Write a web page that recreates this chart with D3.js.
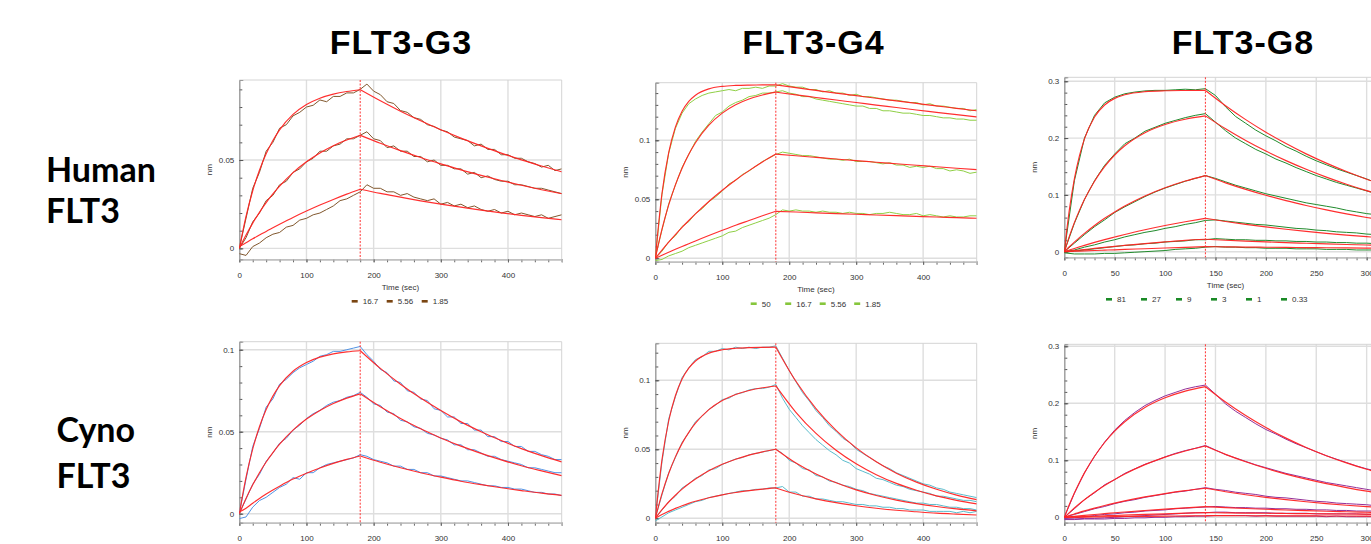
<!DOCTYPE html>
<html><head><meta charset="utf-8">
<script src="https://cdn.jsdelivr.net/npm/d3@7/dist/d3.min.js"></script>
<style>body{margin:0;background:#fff}svg{display:block}</style>
</head><body><svg id="c" width="1371" height="544"></svg>
<script>
// ---------------- data ----------------
const columnTitles = ["FLT3-G3", "FLT3-G4", "FLT3-G8"];
const rowTitles = [["Human", "FLT3"], ["Cyno", "FLT3"]];
const concG3 = ["16.7", "5.56", "1.85"];
const concG4 = ["50", "16.7", "5.56", "1.85"];
const concG8 = ["81", "27", "9", "3", "1", "0.33"];
const xTicks480 = [0, 100, 200, 300, 400];
const xTicks320 = [0, 50, 100, 150, 200, 250, 300];
const yTicksG3Human = [0, 0.05];
const yTicksG4Human = [0, 0.05, 0.1];
const yTicksG8 = [0, 0.1, 0.2, 0.3];
const yTicksG3Cyno = [0, 0.05, 0.1];
const yTicksG4Cyno = [0, 0.05, 0.1];

const sampleTimes480 = [0,10,20,30,40,50,60,70,80,90,100,110,120,130,140,150,160,170,180,190,200,210,220,230,240,250,260,270,280,290,300,310,320,330,340,350,360,370,380,390,400,410,420,430,440,450,460,470,480];
const sampleTimes320 = [0,10,20,30,40,50,60,70,80,90,100,110,120,130,140,150,160,170,180,190,200,210,220,230,240,250,260,270,280,290,300,310,320];
const fitTimes480 = [0,10,20,30,40,50,60,80,100,120,140,160,180,210,240,270,300,330,360,390,420,450,480];
const fitTimes320 = [0,5,10,15,20,30,40,50,60,80,100,120,140,160,180,200,220,240,260,280,300,320];

// FLT3-G3 / Human
const g3HumanObs = [
 [0.000,0.017,0.034,0.043,0.055,0.060,0.068,0.070,0.075,0.077,0.080,0.081,0.084,0.083,0.086,0.086,0.088,0.088,0.090,0.093,0.089,0.087,0.083,0.082,0.078,0.077,0.074,0.073,0.070,0.069,0.067,0.066,0.063,0.062,0.061,0.058,0.059,0.056,0.056,0.053,0.053,0.051,0.051,0.049,0.048,0.046,0.047,0.044,0.045],
 [0.000,0.006,0.015,0.020,0.027,0.030,0.036,0.038,0.043,0.045,0.049,0.051,0.055,0.055,0.058,0.059,0.062,0.062,0.064,0.066,0.062,0.061,0.057,0.058,0.055,0.055,0.052,0.052,0.049,0.050,0.047,0.047,0.045,0.045,0.042,0.043,0.040,0.041,0.039,0.038,0.038,0.036,0.036,0.035,0.034,0.034,0.033,0.032,0.031],
 [-0.003,-0.004,0.001,0.003,0.006,0.008,0.009,0.012,0.013,0.016,0.017,0.019,0.020,0.022,0.024,0.027,0.028,0.030,0.032,0.036,0.034,0.034,0.032,0.032,0.030,0.031,0.029,0.028,0.027,0.028,0.025,0.026,0.024,0.025,0.023,0.024,0.022,0.021,0.022,0.020,0.021,0.019,0.020,0.019,0.018,0.019,0.017,0.018,0.019]
];
const g3HumanFit = [
 [0,0.0181,0.0326,0.0442,0.0535,0.0610,0.0671,0.0758,0.0814,0.0850,0.0873,0.0888,0.0898,0.0835,0.0776,0.0722,0.0671,0.0624,0.0580,0.0539,0.0501,0.0466,0.0433],
 [0,0.0075,0.0143,0.0204,0.0259,0.0308,0.0352,0.0429,0.0490,0.0540,0.0581,0.0613,0.0640,0.0595,0.0553,0.0514,0.0478,0.0444,0.0413,0.0384,0.0357,0.0332,0.0309],
 [0.001,0.0032,0.0054,0.0075,0.0096,0.0116,0.0136,0.0175,0.0211,0.0245,0.0277,0.0307,0.0335,0.0311,0.0290,0.0269,0.0250,0.0233,0.0216,0.0201,0.0187,0.0174,0.0162]
];

// FLT3-G4 / Human
const g4HumanObs = [
 [0.000,0.054,0.089,0.110,0.123,0.131,0.135,0.138,0.140,0.141,0.142,0.143,0.142,0.144,0.144,0.145,0.144,0.146,0.146,0.148,0.146,0.145,0.145,0.143,0.143,0.141,0.142,0.140,0.140,0.138,0.139,0.137,0.137,0.136,0.135,0.134,0.134,0.133,0.132,0.132,0.130,0.131,0.129,0.129,0.128,0.127,0.127,0.125,0.126],
 [0.001,0.024,0.046,0.062,0.077,0.088,0.099,0.107,0.114,0.121,0.124,0.129,0.132,0.134,0.137,0.138,0.140,0.140,0.141,0.142,0.140,0.139,0.137,0.137,0.135,0.134,0.133,0.132,0.131,0.130,0.129,0.129,0.127,0.127,0.125,0.125,0.124,0.123,0.123,0.122,0.121,0.121,0.120,0.119,0.119,0.118,0.118,0.117,0.117],
 [0.000,0.006,0.014,0.019,0.027,0.031,0.038,0.042,0.048,0.052,0.057,0.063,0.066,0.071,0.074,0.078,0.082,0.085,0.088,0.090,0.089,0.088,0.087,0.087,0.086,0.085,0.084,0.084,0.083,0.084,0.082,0.082,0.082,0.081,0.080,0.081,0.079,0.079,0.077,0.078,0.077,0.078,0.076,0.076,0.074,0.075,0.074,0.072,0.073],
 [-0.002,-0.001,0.002,0.004,0.006,0.009,0.011,0.013,0.015,0.017,0.019,0.022,0.023,0.026,0.028,0.030,0.032,0.034,0.037,0.041,0.040,0.041,0.040,0.040,0.039,0.040,0.039,0.039,0.038,0.039,0.038,0.038,0.037,0.038,0.038,0.039,0.038,0.037,0.037,0.038,0.036,0.037,0.036,0.035,0.036,0.035,0.035,0.036,0.036]
];
const g4HumanFit = [
 [0,0.0551,0.0896,0.1111,0.1246,0.1330,0.1382,0.1436,0.1457,0.1465,0.1468,0.1469,0.1470,0.1446,0.1423,0.1400,0.1378,0.1356,0.1334,0.1313,0.1291,0.1271,0.1250],
 [0,0.0247,0.0452,0.0622,0.0763,0.0881,0.0979,0.1128,0.1230,0.1301,0.1350,0.1384,0.1408,0.1385,0.1363,0.1341,0.1320,0.1298,0.1278,0.1257,0.1237,0.1217,0.1198],
 [0,0.0070,0.0137,0.0201,0.0262,0.0320,0.0376,0.0481,0.0576,0.0664,0.0743,0.0816,0.0883,0.0869,0.0855,0.0841,0.0828,0.0814,0.0801,0.0788,0.0776,0.0763,0.0751],
 [0,0.0026,0.0051,0.0076,0.0100,0.0123,0.0147,0.0193,0.0237,0.0280,0.0320,0.0360,0.0398,0.0392,0.0385,0.0379,0.0373,0.0367,0.0361,0.0355,0.0350,0.0344,0.0339]
];

// FLT3-G8 / Human
const g8HumanObs = [
 [0.000,0.125,0.200,0.240,0.262,0.272,0.278,0.281,0.283,0.284,0.284,0.285,0.286,0.285,0.287,0.275,0.255,0.238,0.226,0.214,0.204,0.195,0.185,0.177,0.168,0.160,0.153,0.146,0.140,0.134,0.128,0.121,0.116],
 [0.000,0.050,0.092,0.125,0.152,0.172,0.190,0.200,0.212,0.219,0.226,0.231,0.236,0.240,0.243,0.228,0.213,0.200,0.190,0.180,0.172,0.163,0.156,0.148,0.141,0.134,0.128,0.122,0.117,0.112,0.107,0.102,0.098],
 [0.000,0.015,0.030,0.044,0.056,0.069,0.079,0.088,0.097,0.105,0.112,0.118,0.124,0.129,0.134,0.129,0.123,0.117,0.112,0.107,0.102,0.098,0.094,0.090,0.086,0.083,0.080,0.077,0.073,0.070,0.067,0.065,0.062],
 [0.000,0.003,0.008,0.012,0.017,0.021,0.026,0.030,0.034,0.037,0.041,0.044,0.048,0.051,0.055,0.056,0.054,0.052,0.050,0.048,0.047,0.045,0.043,0.041,0.040,0.038,0.037,0.035,0.034,0.033,0.031,0.030,0.029],
 [-0.001,0.001,0.003,0.005,0.007,0.009,0.011,0.012,0.014,0.015,0.017,0.018,0.019,0.021,0.021,0.023,0.022,0.021,0.021,0.020,0.020,0.019,0.019,0.018,0.018,0.017,0.017,0.016,0.016,0.015,0.015,0.014,0.014],
 [-0.002,-0.004,-0.004,-0.004,-0.003,-0.003,-0.002,-0.001,0.000,0.001,0.002,0.004,0.005,0.006,0.008,0.009,0.008,0.008,0.007,0.007,0.006,0.006,0.006,0.005,0.005,0.005,0.004,0.004,0.004,0.003,0.003,0.003,0.003]
];
const g8HumanFit = [
 [0,0.0736,0.1281,0.1685,0.1985,0.2371,0.2582,0.2699,0.2762,0.2817,0.2833,0.2838,0.2840,0.2570,0.2325,0.2104,0.1904,0.1722,0.1559,0.1410,0.1276,0.1155],
 [0,0.0270,0.0512,0.0727,0.0918,0.1241,0.1498,0.1702,0.1864,0.2095,0.2240,0.2332,0.2391,0.2163,0.1957,0.1771,0.1603,0.1450,0.1312,0.1187,0.1074,0.0972],
 [0,0.0087,0.0169,0.0248,0.0322,0.0461,0.0587,0.0700,0.0803,0.0980,0.1124,0.1243,0.1340,0.1212,0.1097,0.0993,0.0898,0.0813,0.0735,0.0665,0.0602,0.0545],
 [0,0.0029,0.0057,0.0084,0.0111,0.0163,0.0212,0.0258,0.0303,0.0385,0.0460,0.0527,0.0588,0.0532,0.0481,0.0436,0.0394,0.0357,0.0323,0.0292,0.0264,0.0239],
 [0,0.0010,0.0020,0.0029,0.0039,0.0057,0.0075,0.0093,0.0110,0.0142,0.0172,0.0200,0.0218,0.0202,0.0187,0.0173,0.0160,0.0148,0.0137,0.0127,0.0118,0.0109],
 [0,0.0003,0.0007,0.0010,0.0013,0.0020,0.0027,0.0033,0.0040,0.0052,0.0065,0.0077,0.0088,0.0085,0.0081,0.0078,0.0075,0.0072,0.0069,0.0066,0.0063,0.0061]
];

// FLT3-G3 / Cyno
const g3CynoObs = [
 [0.000,0.021,0.041,0.052,0.065,0.070,0.079,0.082,0.086,0.089,0.091,0.093,0.096,0.097,0.099,0.099,0.100,0.101,0.102,0.097,0.093,0.088,0.086,0.081,0.080,0.075,0.074,0.070,0.069,0.064,0.063,0.059,0.059,0.055,0.055,0.051,0.051,0.047,0.047,0.044,0.044,0.041,0.041,0.038,0.038,0.036,0.035,0.033,0.033],
 [0.000,0.009,0.018,0.024,0.032,0.037,0.043,0.046,0.051,0.054,0.058,0.061,0.063,0.066,0.068,0.069,0.071,0.072,0.074,0.071,0.067,0.066,0.062,0.061,0.057,0.056,0.053,0.052,0.049,0.048,0.046,0.045,0.042,0.042,0.039,0.039,0.037,0.035,0.035,0.033,0.032,0.031,0.030,0.028,0.028,0.027,0.026,0.025,0.025],
 [-0.003,-0.002,0.004,0.008,0.010,0.013,0.016,0.018,0.022,0.021,0.025,0.025,0.028,0.030,0.031,0.032,0.033,0.034,0.036,0.035,0.033,0.032,0.031,0.029,0.029,0.027,0.027,0.025,0.025,0.023,0.023,0.022,0.021,0.020,0.020,0.019,0.018,0.017,0.017,0.016,0.016,0.015,0.015,0.014,0.013,0.013,0.012,0.012,0.011]
];
const g3CynoFit = [
 [0,0.0222,0.0395,0.0530,0.0635,0.0717,0.0781,0.0869,0.0922,0.0955,0.0975,0.0987,0.0994,0.0886,0.0790,0.0705,0.0629,0.0560,0.0500,0.0446,0.0397,0.0354,0.0316],
 [0,0.0093,0.0176,0.0250,0.0315,0.0373,0.0424,0.0510,0.0577,0.0630,0.0672,0.0705,0.0731,0.0652,0.0581,0.0518,0.0462,0.0412,0.0368,0.0328,0.0292,0.0261,0.0232],
 [0.001,0.0033,0.0064,0.0093,0.0120,0.0145,0.0168,0.0211,0.0247,0.0279,0.0307,0.0331,0.0352,0.0314,0.0280,0.0250,0.0223,0.0198,0.0177,0.0158,0.0141,0.0125,0.0112]
];

// FLT3-G4 / Cyno
const g4CynoObs = [
 [0.000,0.041,0.072,0.088,0.102,0.109,0.115,0.117,0.121,0.121,0.123,0.122,0.124,0.123,0.124,0.123,0.124,0.124,0.125,0.116,0.107,0.099,0.091,0.085,0.078,0.073,0.067,0.063,0.058,0.055,0.050,0.047,0.044,0.041,0.038,0.036,0.033,0.031,0.029,0.027,0.025,0.024,0.022,0.021,0.019,0.018,0.017,0.016,0.015],
 [0.000,0.017,0.033,0.044,0.055,0.062,0.070,0.074,0.079,0.082,0.086,0.087,0.090,0.091,0.093,0.094,0.094,0.095,0.097,0.087,0.079,0.073,0.067,0.062,0.057,0.053,0.049,0.046,0.042,0.040,0.036,0.034,0.032,0.029,0.028,0.026,0.024,0.023,0.021,0.020,0.019,0.018,0.016,0.016,0.015,0.014,0.013,0.013,0.012],
 [0.000,0.006,0.012,0.016,0.022,0.025,0.029,0.031,0.035,0.036,0.039,0.041,0.043,0.044,0.046,0.047,0.048,0.049,0.050,0.047,0.042,0.040,0.036,0.035,0.031,0.030,0.027,0.026,0.024,0.023,0.021,0.020,0.018,0.017,0.016,0.015,0.014,0.013,0.012,0.011,0.011,0.010,0.010,0.009,0.008,0.008,0.007,0.007,0.006],
 [-0.002,0.001,0.004,0.006,0.008,0.010,0.012,0.013,0.015,0.016,0.017,0.018,0.019,0.020,0.020,0.021,0.021,0.022,0.022,0.023,0.019,0.019,0.016,0.016,0.014,0.014,0.013,0.012,0.012,0.011,0.010,0.010,0.009,0.009,0.008,0.008,0.007,0.007,0.006,0.006,0.006,0.005,0.005,0.005,0.005,0.004,0.005,0.004,0.005]
];
const g4CynoFit = [
 [0,0.0425,0.0705,0.0888,0.1009,0.1088,0.1140,0.1197,0.1221,0.1232,0.1237,0.1239,0.1240,0.0993,0.0795,0.0637,0.0510,0.0409,0.0327,0.0262,0.0210,0.0168,0.0135],
 [0,0.0179,0.0325,0.0445,0.0543,0.0623,0.0689,0.0787,0.0853,0.0897,0.0926,0.0946,0.0959,0.0768,0.0615,0.0493,0.0395,0.0316,0.0253,0.0203,0.0162,0.0130,0.0104],
 [0,0.0062,0.0118,0.0167,0.0211,0.0250,0.0285,0.0344,0.0391,0.0428,0.0458,0.0481,0.0500,0.0400,0.0321,0.0257,0.0206,0.0165,0.0132,0.0106,0.0085,0.0068,0.0054],
 [0,0.0027,0.0050,0.0072,0.0091,0.0108,0.0123,0.0149,0.0170,0.0187,0.0200,0.0211,0.0220,0.0176,0.0141,0.0113,0.0091,0.0073,0.0058,0.0047,0.0037,0.0030,0.0024]
];

// FLT3-G8 / Cyno
const g8CynoObs = [
 [0.000,0.042,0.078,0.107,0.132,0.153,0.170,0.184,0.196,0.205,0.213,0.219,0.225,0.229,0.232,0.216,0.199,0.186,0.175,0.164,0.154,0.146,0.137,0.129,0.122,0.115,0.108,0.102,0.096,0.090,0.085,0.081,0.077],
 [0.000,0.015,0.031,0.043,0.057,0.066,0.077,0.085,0.093,0.099,0.106,0.112,0.117,0.121,0.126,0.118,0.110,0.104,0.098,0.092,0.087,0.082,0.077,0.073,0.069,0.065,0.061,0.058,0.055,0.052,0.049,0.046,0.044],
 [0.000,0.005,0.010,0.015,0.019,0.024,0.028,0.031,0.035,0.038,0.041,0.044,0.046,0.049,0.052,0.049,0.047,0.044,0.042,0.040,0.037,0.035,0.034,0.032,0.030,0.028,0.027,0.025,0.024,0.023,0.022,0.020,0.019],
 [-0.002,-0.001,0.001,0.003,0.005,0.006,0.008,0.009,0.011,0.012,0.013,0.015,0.016,0.017,0.018,0.019,0.018,0.017,0.017,0.016,0.016,0.015,0.015,0.014,0.014,0.013,0.013,0.012,0.012,0.011,0.011,0.011,0.010],
 [-0.003,-0.003,-0.002,-0.002,-0.001,0.000,0.001,0.002,0.003,0.004,0.005,0.006,0.007,0.008,0.008,0.009,0.009,0.008,0.008,0.008,0.008,0.007,0.007,0.007,0.007,0.006,0.006,0.006,0.006,0.006,0.005,0.005,0.005],
 [-0.004,-0.004,-0.003,-0.003,-0.003,-0.002,-0.002,-0.001,-0.001,0.000,0.000,0.001,0.001,0.002,0.002,0.003,0.003,0.003,0.003,0.002,0.003,0.002,0.002,0.002,0.002,0.002,0.001,0.002,0.001,0.001,0.001,0.001,0.001]
];
const g8CynoFit = [
 [0,0.0223,0.0426,0.0611,0.0779,0.1071,0.1312,0.1512,0.1677,0.1926,0.2096,0.2213,0.2292,0.2022,0.1784,0.1574,0.1389,0.1226,0.1081,0.0954,0.0842,0.0743],
 [0,0.0083,0.0162,0.0237,0.0308,0.0439,0.0557,0.0664,0.0760,0.0924,0.1056,0.1164,0.1251,0.1104,0.0974,0.0859,0.0758,0.0669,0.0590,0.0521,0.0459,0.0405],
 [0,0.0030,0.0058,0.0086,0.0112,0.0161,0.0207,0.0249,0.0288,0.0357,0.0416,0.0467,0.0509,0.0449,0.0396,0.0350,0.0309,0.0272,0.0240,0.0212,0.0187,0.0165],
 [0,0.0008,0.0017,0.0025,0.0033,0.0049,0.0064,0.0079,0.0093,0.0119,0.0143,0.0166,0.0187,0.0170,0.0155,0.0141,0.0128,0.0117,0.0106,0.0097,0.0088,0.0080],
 [0,0.0003,0.0007,0.0010,0.0013,0.0019,0.0026,0.0032,0.0038,0.0050,0.0061,0.0072,0.0082,0.0078,0.0074,0.0071,0.0067,0.0064,0.0061,0.0058,0.0055,0.0052],
 [0,0.0001,0.0002,0.0003,0.0004,0.0006,0.0009,0.0011,0.0013,0.0017,0.0021,0.0025,0.0029,0.0028,0.0027,0.0026,0.0025,0.0024,0.0023,0.0022,0.0021,0.0020]
];

// ---------------- layout ----------------
const FIT_COLOR = "#ff2323";
const panels = [
 {left:239.3, right:561.7, top:80, bottom:259.3, xMax:480, yMin:-0.0062, yMax:0.0953, yMajor:yTicksG3Human, yMinorStep:0.01, xMajor:xTicks480, xMinorStep:20, assocEnd:180,
  sT:sampleTimes480, fT:fitTimes480, obs:g3HumanObs, fit:g3HumanFit, color:"#80572d", legColor:"#7a4512", conc:concG3, legendX:112.4, legendStep:35, showBottom:true},
 {left:655.3, right:976.7, top:82.7, bottom:261.7, xMax:480, yMin:-0.0029, yMax:0.1488, yMajor:yTicksG4Human, yMinorStep:0.01, xMajor:xTicks480, xMinorStep:20, assocEnd:180,
  sT:sampleTimes480, fT:fitTimes480, obs:g4HumanObs, fit:g4HumanFit, color:"#8fcf45", legColor:"#86c63c", conc:concG4, legendX:95.4, legendStep:34.5, showBottom:true},
 {left:1064.3, right:1386.8, top:77.3, bottom:257.3, xMax:320, yMin:-0.0099, yMax:0.307, yMajor:yTicksG8, yMinorStep:0.02, xMajor:xTicks320, xMinorStep:10, assocEnd:140,
  sT:sampleTimes320, fT:fitTimes320, obs:g8HumanObs, fit:g8HumanFit, color:"#208a2c", legColor:"#1a8a26", conc:concG8, legendX:41.7, legendStep:35, showBottom:true},
 {left:239.3, right:561.7, top:341.7, bottom:522.7, xMax:480, yMin:-0.0055, yMax:0.1049, yMajor:yTicksG3Cyno, yMinorStep:0.01, xMajor:xTicks480, xMinorStep:20, assocEnd:180,
  sT:sampleTimes480, fT:fitTimes480, obs:g3CynoObs, fit:g3CynoFit, color:"#4f92e4", legColor:"#4f92e4", conc:concG3, showBottom:false},
 {left:655.3, right:976.7, top:343.3, bottom:522.7, xMax:480, yMin:-0.0032, yMax:0.1268, yMajor:yTicksG4Cyno, yMinorStep:0.01, xMajor:xTicks480, xMinorStep:20, assocEnd:180,
  sT:sampleTimes480, fT:fitTimes480, obs:g4CynoObs, fit:g4CynoFit, color:"#5bbccc", legColor:"#5bbccc", conc:concG4, showBottom:false},
 {left:1064.3, right:1386.8, top:344.3, bottom:522.7, xMax:320, yMin:-0.0095, yMax:0.3035, yMajor:yTicksG8, yMinorStep:0.02, xMajor:xTicks320, xMinorStep:10, assocEnd:140,
  sT:sampleTimes320, fT:fitTimes320, obs:g8CynoObs, fit:g8CynoFit, color:"#922f98", legColor:"#922f98", conc:concG8, showBottom:false}
];

const svg = d3.select("#c");
const AX_FONT = "'Liberation Sans', Arial, sans-serif";

// column titles
const titleX = [401, 813.5, 1243];
svg.selectAll("text.coltitle").data(columnTitles).join("text")
  .attr("class","coltitle")
  .attr("x",(d,i)=>titleX[i]).attr("y",53.5)
  .attr("text-anchor","middle")
  .style("font-family","'Liberation Sans', Arial, sans-serif")
  .style("font-weight","bold").style("font-size","34px").style("letter-spacing","1px").style("fill","#000")
  .text(d=>d);

// row titles
const rowPos = [{x:46, y:[181.7,223.3]}, {x:56.5, y:[441.5,487.5]}];
rowTitles.forEach((lines, r) => {
  lines.forEach((t, k) => {
    svg.append("text").attr("x", rowPos[r].x).attr("y", rowPos[r].y[k])
      .style("font-family","Lato, 'Open Sans', sans-serif").style("font-weight","bold")
      .style("font-size","34px").style("fill","#000").text(t);
  });
});

panels.forEach((p, pi) => {
  const g = svg.append("g");
  const x = d3.scaleLinear().domain([0, p.xMax]).range([p.left, p.right]);
  const y = d3.scaleLinear().domain([p.yMin, p.yMax]).range([p.bottom, p.top]);
  const clipId = "clip" + pi;
  g.append("clipPath").attr("id", clipId).append("rect")
    .attr("x", p.left).attr("y", p.top).attr("width", p.right - p.left).attr("height", p.bottom - p.top);

  // grid
  g.selectAll("line.vg").data(p.xMajor.filter(d => d > 0)).join("line")
    .attr("x1", d => x(d)).attr("x2", d => x(d)).attr("y1", p.top).attr("y2", p.bottom)
    .attr("stroke", "#dedede").attr("stroke-width", 1.4);
  g.selectAll("line.hg").data(p.yMajor).join("line")
    .attr("x1", p.left).attr("x2", p.right).attr("y1", d => y(d)).attr("y2", d => y(d))
    .attr("stroke", "#dedede").attr("stroke-width", 1.4);
  // frame top/right
  g.append("path").attr("d", `M${p.left},${p.top}H${p.right}V${p.bottom}`)
    .attr("fill","none").attr("stroke","#d4d4d4").attr("stroke-width",1);

  // x axis
  const xMinor = d3.range(0, p.xMax + 0.001, p.xMinorStep);
  const xa1 = g.append("g").attr("transform", `translate(0,${p.bottom})`)
    .call(d3.axisBottom(x).tickValues(xMinor).tickSize(3).tickFormat(""));
  const xa2 = g.append("g").attr("transform", `translate(0,${p.bottom})`)
    .call(d3.axisBottom(x).tickValues(p.xMajor).tickSize(3).tickPadding(10).tickFormat(d3.format("d")));
  [xa1, xa2].forEach(a => {
    a.select(".domain").attr("stroke", "#bdbdbd").attr("stroke-width", 1.2);
    a.selectAll(".tick line").attr("stroke", "#666");
    a.selectAll("text").style("font-family", AX_FONT).style("font-size", "8px").attr("fill", "#333");
  });

  // y axis
  const yMinor = d3.range(0, p.yMax, p.yMinorStep).concat(d3.range(-p.yMinorStep, p.yMin, -p.yMinorStep));
  const ya1 = g.append("g").attr("transform", `translate(${p.left},0)`)
    .call(d3.axisLeft(y).tickValues(yMinor).tickSize(-3).tickFormat(""));
  const ya2 = g.append("g").attr("transform", `translate(${p.left},0)`)
    .call(d3.axisLeft(y).tickValues(p.yMajor).tickSize(-4).tickPadding(5).tickFormat(d => d === 0 ? "0" : String(+d.toFixed(2))));
  [ya1, ya2].forEach(a => {
    a.select(".domain").attr("stroke", "#9a9a9a").attr("stroke-width", 1);
    a.selectAll(".tick line").attr("stroke", "#555");
    a.selectAll("text").style("font-family", AX_FONT).style("font-size", "8px").attr("fill", "#333");
  });

  // nm label
  g.append("text").attr("transform", `translate(${p.left - 27},${(p.top + p.bottom) / 2}) rotate(-90)`)
    .attr("text-anchor", "middle").style("font-family", AX_FONT).style("font-size", "8px").attr("fill", "#333").text("nm");

  // traces
  const plot = g.append("g").attr("clip-path", `url(#${clipId})`);
  const obsLine = d3.line().x(d => x(d[0])).y(d => y(d[1]));
  p.obs.forEach(vals => {
    const pts = p.sT.map((t, i) => [t, vals[i]]).filter(d => d[1] !== undefined);
    plot.append("path").attr("d", obsLine(pts)).attr("fill", "none")
      .attr("stroke", p.color).attr("stroke-width", 1).attr("stroke-linejoin", "round");
  });
  const fitLine = d3.line().x(d => x(d[0])).y(d => y(d[1])).curve(d3.curveMonotoneX);
  p.fit.forEach(vals => {
    const pts = p.fT.map((t, i) => [t, vals[i]]).filter(d => d[1] !== undefined);
    const assoc = pts.filter(d => d[0] <= p.assocEnd);
    const dissoc = pts.filter(d => d[0] >= p.assocEnd);
    [assoc, dissoc].forEach(seg => {
      plot.append("path").attr("d", fitLine(seg)).attr("fill", "none")
        .attr("stroke", FIT_COLOR).attr("stroke-width", 1.15).attr("opacity", 0.95);
    });
  });

  // association end marker
  g.append("line").attr("x1", x(p.assocEnd)).attr("x2", x(p.assocEnd))
    .attr("y1", p.top).attr("y2", p.bottom)
    .attr("stroke", "#ff3030").attr("stroke-width", 1).attr("stroke-dasharray", "2,1.5");

  if (p.showBottom) {
    g.append("text").attr("x", (p.left + p.right) / 2).attr("y", p.bottom + 30.5)
      .attr("text-anchor", "middle").style("font-family", AX_FONT).style("font-size", "8px")
      .attr("fill", "#333").text("Time (sec)");
    const leg = g.append("g").attr("transform", `translate(${p.left + p.legendX},${p.bottom + 42})`);
    const items = leg.selectAll("g").data(p.conc).join("g")
      .attr("transform", (d, i) => `translate(${i * p.legendStep},0)`);
    items.append("rect").attr("x", 0).attr("y", -1.3).attr("width", 6).attr("height", 2.6).attr("fill", p.legColor);
    items.append("text").attr("x", 11).attr("y", 2.9).style("font-family", AX_FONT).style("font-size", "8px")
      .attr("fill", "#333").text(d => d);
  }
});
</script>
</body></html>
